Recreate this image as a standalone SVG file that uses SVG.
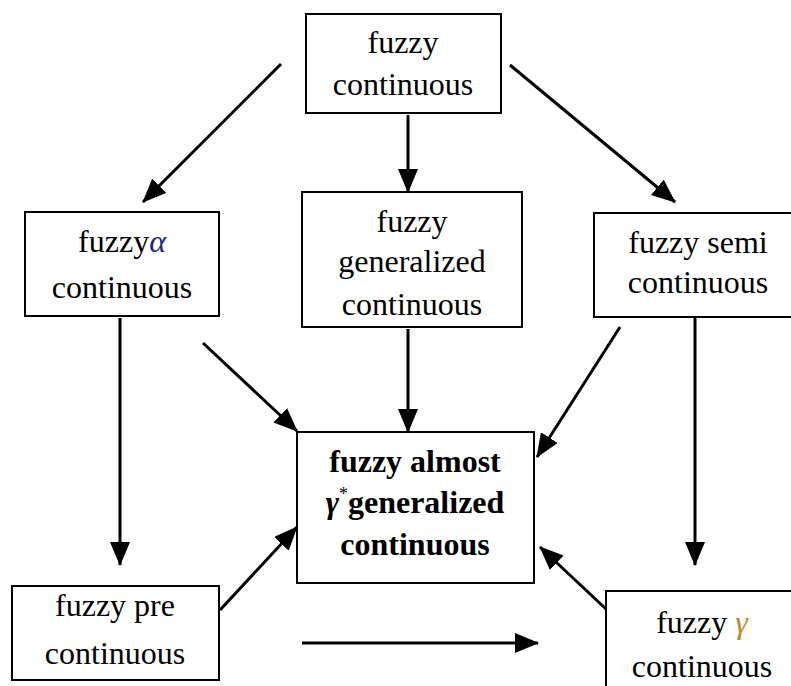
<svg xmlns="http://www.w3.org/2000/svg" width="791" height="686" viewBox="0 0 791 686">
<style>
.box{fill:#fff;stroke:#000;stroke-width:2}
.t{font-family:"Liberation Serif","Times New Roman",serif;font-size:32px;fill:#000;text-anchor:middle}
.b{font-weight:bold}
.c{stroke:#000;stroke-width:3;fill:none;marker-end:url(#ah)}
.g{font-style:italic}
</style>
<defs>
<marker id="ah" markerUnits="userSpaceOnUse" markerWidth="24" markerHeight="20" refX="23" refY="10" orient="auto">
<path d="M0,0 L24,10 L0,20 z" fill="#000"/>
</marker>
</defs>
<rect width="791" height="686" fill="#fff"/>
<g id="connectors">
<line class="c" x1="281" y1="64" x2="143" y2="202"/>
<line class="c" x1="408" y1="115" x2="408" y2="192"/>
<line class="c" x1="510" y1="65" x2="675" y2="202"/>
<line class="c" x1="120" y1="318" x2="120" y2="565"/>
<line class="c" x1="203" y1="343" x2="297" y2="431"/>
<line class="c" x1="408" y1="329" x2="408" y2="432"/>
<line class="c" x1="620" y1="327" x2="537" y2="457"/>
<line class="c" x1="695" y1="318" x2="695" y2="565"/>
<line class="c" x1="220" y1="610" x2="297" y2="527"/>
<line class="c" x1="302" y1="643" x2="538" y2="643"/>
<line class="c" x1="606" y1="609" x2="540" y2="547"/>
</g>
<g id="n-fuzzy-continuous">
<rect class="box" x="306" y="14" width="195" height="99"/>
<text class="t" x="403" y="53">fuzzy</text>
<text class="t" x="403" y="95">continuous</text>
</g>
<g id="n-alpha">
<rect class="box" x="25" y="212" width="194" height="104"/>
<text class="t" x="122" y="252">fuzzy<tspan class="g" fill="#23238c">α</tspan></text>
<text class="t" x="122" y="298">continuous</text>
</g>
<g id="n-generalized">
<rect class="box" x="302" y="192" width="220" height="135"/>
<text class="t" x="412" y="232">fuzzy</text>
<text class="t" x="412" y="272">generalized</text>
<text class="t" x="412" y="315">continuous</text>
</g>
<g id="n-semi">
<rect class="box" x="594" y="213" width="199" height="104"/>
<text class="t" x="698" y="253">fuzzy semi</text>
<text class="t" x="698" y="293">continuous</text>
</g>
<g id="n-center">
<rect class="box" x="297" y="432" width="237" height="151"/>
<text class="t b" x="415" y="472">fuzzy almost</text>
<text class="t b" x="415" y="513"><tspan class="g">γ</tspan><tspan font-size="18" font-weight="normal" dy="-13">*</tspan><tspan dy="13">generalized</tspan></text>
<text class="t b" x="415" y="555">continuous</text>
</g>
<g id="n-pre">
<rect class="box" x="12" y="586" width="207" height="94"/>
<text class="t" x="115" y="616">fuzzy pre</text>
<text class="t" x="115" y="664">continuous</text>
</g>
<g id="n-gamma">
<rect class="box" x="606" y="591" width="190" height="100"/>
<text class="t" x="702" y="633">fuzzy <tspan class="g" fill="#c08a1a">γ</tspan></text>
<text class="t" x="702" y="677">continuous</text>
</g>
</svg>
